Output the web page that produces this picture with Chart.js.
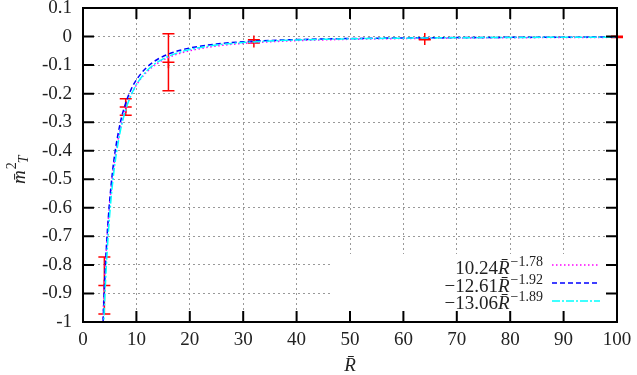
<!DOCTYPE html>
<html>
<head>
<meta charset="utf-8">
<script src="https://cdn.jsdelivr.net/npm/chart.js@4.4.0/dist/chart.umd.min.js"></script>
<style>
  html, body { margin: 0; padding: 0; background: #fff; }
</style>
</head>
<body>
<canvas id="chart" width="637" height="375"></canvas>
<script>
// measured points with error bars
const pointR = [4, 8, 16, 32, 64, 100];
const pointM = [-0.872, -0.247, -0.090, -0.017, -0.009, -0.001];
const pointErr = [0.100, 0.029, 0.100, 0.006, 0.002, 0.002];

// fit curves at these R values
const sampleR = [3.5, 4, 4.5, 5, 5.5, 6, 7, 8, 9, 10, 12, 14, 16, 18, 20, 25, 30, 35, 40, 50, 60, 70, 80, 90, 100];
const fitA = [-1.101, -0.868, -0.704, -0.584, -0.493, -0.422, -0.3206, -0.2528, -0.2050, -0.1700, -0.1229, -0.0934, -0.0736,
              -0.0597, -0.0495, -0.0333, -0.0240, -0.0183, -0.0144, -0.0097, -0.0070, -0.0053, -0.0042, -0.0034, -0.0028];
const fitB = [-1.138, -0.881, -0.702, -0.574, -0.478, -0.404, -0.3007, -0.2327, -0.1856, -0.1516, -0.1068, -0.0795, -0.0615,
              -0.0490, -0.0401, -0.0261, -0.0184, -0.0137, -0.0106, -0.0069, -0.0049, -0.0036, -0.0028, -0.0022, -0.0018];
const fitC = [-1.223, -0.951, -0.761, -0.624, -0.521, -0.442, -0.330, -0.2565, -0.2053, -0.1682, -0.1192, -0.0891, -0.0692,
              -0.0554, -0.0454, -0.0298, -0.0211, -0.0158, -0.0122, -0.0080, -0.0057, -0.0043, -0.0033, -0.0026, -0.0022];

const fitCoef = ['10.24', '\u221212.61', '\u221213.06'];
const fitExp = ['\u22121.78', '\u22121.92', '\u22121.89'];
const fitColors = ['#ff00ff', '#0000ff', '#00ffff'];
const fitDash = [[1.5, 2.5], [5, 3], [8, 2, 2, 2]];

const serif = '"Liberation Serif", "DejaVu Serif", serif';

function toXY(xs, ys) {
    return xs.map((x, i) => ({ x: x, y: ys[i] }));
}

const decor = {
    id: 'decor',
    beforeDatasetsDraw(chart) {
        // error bars
        const ctx = chart.ctx;
        const xs = chart.scales.x, ys = chart.scales.y;
        ctx.save();
        ctx.strokeStyle = '#ff0000';
        ctx.lineWidth = 1.5;
        for (let i = 0; i < pointR.length; i++) {
            const px = xs.getPixelForValue(pointR[i]);
            const top = ys.getPixelForValue(pointM[i] + pointErr[i]);
            const bot = ys.getPixelForValue(pointM[i] - pointErr[i]);
            ctx.beginPath();
            ctx.moveTo(px, top); ctx.lineTo(px, bot);
            ctx.moveTo(px - 6, top); ctx.lineTo(px + 6, top);
            ctx.moveTo(px - 6, bot); ctx.lineTo(px + 6, bot);
            ctx.stroke();
        }
        ctx.restore();
    },
    afterDraw(chart) {
        const ctx = chart.ctx;
        const a = chart.chartArea;
        const xs = chart.scales.x, ys = chart.scales.y;

        // legend box
        ctx.save();
        ctx.fillStyle = '#fff';
        ctx.fillRect(330, 254, a.right - 330, a.bottom - 254);

        const rightX = 543;
        const rowBase = [274, 292, 309];
        const rowLine = [265, 283, 301];
        ctx.fillStyle = '#222';
        ctx.textBaseline = 'alphabetic';
        for (let i = 0; i < fitCoef.length; i++) {
            ctx.font = '14px ' + serif;
            const we = ctx.measureText(fitExp[i]).width;
            ctx.font = 'italic 19px ' + serif;
            const wr = ctx.measureText('R\u0304').width;
            ctx.font = '19px ' + serif;
            const wc = ctx.measureText(fitCoef[i]).width;
            let x = rightX - we - wr - wc - 1;
            ctx.fillText(fitCoef[i], x, rowBase[i]);
            x += wc;
            ctx.font = 'italic 19px ' + serif;
            ctx.fillText('R\u0304', x, rowBase[i]);
            x += wr + 1;
            ctx.font = '14px ' + serif;
            ctx.fillText(fitExp[i], x, rowBase[i] - 8);

            ctx.strokeStyle = fitColors[i];
            ctx.lineWidth = 1.5;
            ctx.setLineDash(fitDash[i]);
            ctx.beginPath();
            ctx.moveTo(552, rowLine[i]);
            ctx.lineTo(600, rowLine[i]);
            ctx.stroke();
        }
        ctx.setLineDash([]);

        // frame and inward ticks
        ctx.strokeStyle = '#000';
        ctx.lineWidth = 2;
        ctx.strokeRect(a.left, a.top, a.right - a.left, a.bottom - a.top);
        ctx.beginPath();
        xs.ticks.forEach(t => {
            const px = xs.getPixelForValue(t.value);
            ctx.moveTo(px, a.bottom); ctx.lineTo(px, a.bottom - 11);
            ctx.moveTo(px, a.top); ctx.lineTo(px, a.top + 11);
        });
        ys.ticks.forEach(t => {
            const py = ys.getPixelForValue(t.value);
            ctx.moveTo(a.left, py); ctx.lineTo(a.left + 11, py);
            ctx.moveTo(a.right, py); ctx.lineTo(a.right - 11, py);
        });
        ctx.stroke();

        // axis titles
        ctx.fillStyle = '#222';
        ctx.font = 'italic 19px ' + serif;
        ctx.textAlign = 'center';
        ctx.fillText('R\u0304', (a.left + a.right) / 2, 371);

        ctx.translate(25, 184);
        ctx.rotate(-Math.PI / 2);
        ctx.textAlign = 'left';
        ctx.font = 'italic 19px ' + serif;
        ctx.fillText('m\u0304', 0, 0);
        const wm = ctx.measureText('m\u0304').width;
        ctx.font = '14px ' + serif;
        ctx.fillText('2', wm + 1, -9);
        ctx.font = 'italic 14px ' + serif;
        ctx.fillText('T', wm + 7, 3);
        ctx.restore();
    }
};

const ctx = document.getElementById('chart').getContext('2d');
const chart = new Chart(ctx, {
    type: 'scatter',
    data: {
        datasets: [
            {
                label: 'data',
                data: toXY(pointR, pointM),
                pointStyle: 'cross',
                pointRadius: 6,
                borderColor: '#ff0000',
                borderWidth: 1.5,
                clip: false,
                order: 4
            },
            {
                label: fitCoef[0],
                data: toXY(sampleR, fitA),
                showLine: true,
                pointRadius: 0,
                borderColor: fitColors[0],
                borderWidth: 1.5,
                borderDash: fitDash[0],
                cubicInterpolationMode: 'monotone',
                order: 3
            },
            {
                label: fitCoef[1],
                data: toXY(sampleR, fitB),
                showLine: true,
                pointRadius: 0,
                borderColor: fitColors[1],
                borderWidth: 1.5,
                borderDash: fitDash[1],
                cubicInterpolationMode: 'monotone',
                order: 2
            },
            {
                label: fitCoef[2],
                data: toXY(sampleR, fitC),
                showLine: true,
                pointRadius: 0,
                borderColor: fitColors[2],
                borderWidth: 1.5,
                borderDash: fitDash[2],
                cubicInterpolationMode: 'monotone',
                order: 1
            }
        ]
    },
    options: {
        responsive: false,
        animation: false,
        layout: { padding: { top: 8, right: 20, left: 0, bottom: 0 }, autoPadding: false },
        plugins: {
            legend: { display: false },
            tooltip: { enabled: false }
        },
        scales: {
            x: {
                type: 'linear',
                min: 0,
                max: 100,
                afterFit: s => {
                    s.height = 53;
                    s.paddingLeft = 0; s.paddingRight = 0;
                    s.paddingTop = 0; s.paddingBottom = 0;
                },
                ticks: {
                    stepSize: 10,
                    padding: 7,
                    color: '#222',
                    font: { family: serif, size: 19 }
                },
                grid: { color: '#999', lineWidth: 1, drawTicks: false },
                border: { display: false, dash: [2, 3] }
            },
            y: {
                min: -1,
                max: 0.1,
                afterFit: s => {
                    s.width = 83;
                    s.paddingLeft = 0; s.paddingRight = 0;
                    s.paddingTop = 0; s.paddingBottom = 0;
                },
                ticks: {
                    stepSize: 0.1,
                    padding: 11,
                    color: '#222',
                    font: { family: serif, size: 19 },
                    callback: v => (Math.round(v * 10) / 10).toString()
                },
                grid: { color: '#999', lineWidth: 1, drawTicks: false },
                border: { display: false, dash: [2, 3] }
            }
        }
    },
    plugins: [decor]
});
</script>
</body>
</html>
